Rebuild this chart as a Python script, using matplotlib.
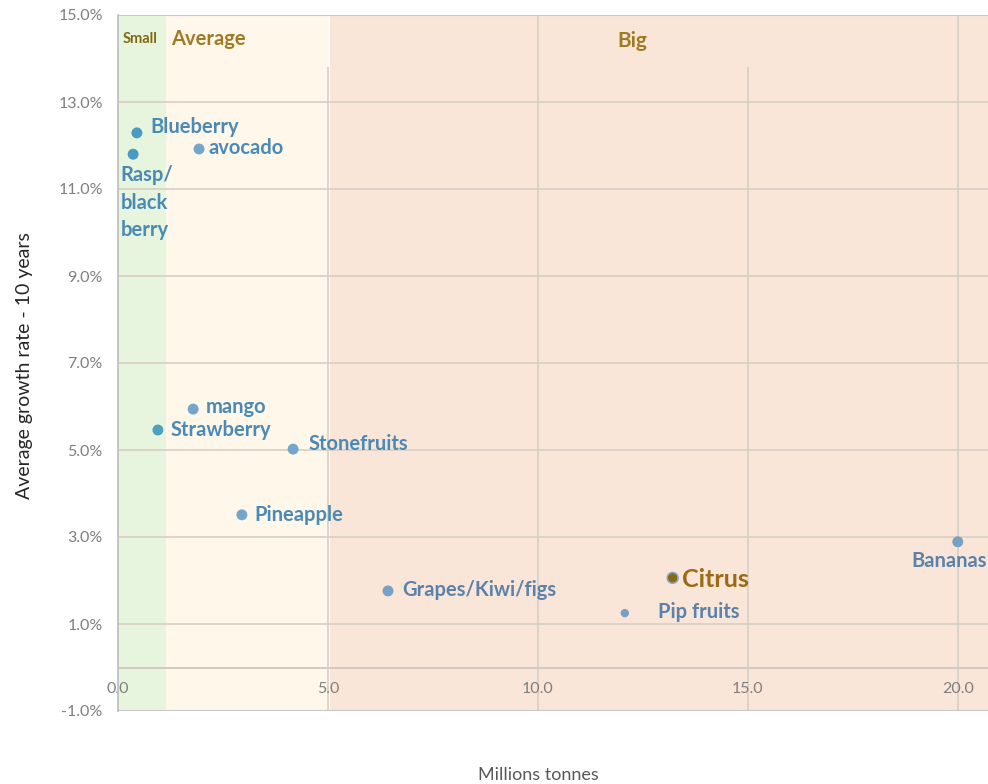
import matplotlib
matplotlib.use("Agg")
import matplotlib.pyplot as plt
from matplotlib.ticker import FuncFormatter

plt.rcParams['font.family'] = ['Lato', 'DejaVu Sans']

# Fruit categories: volume (million tonnes) vs 10-year average growth rate (%)
fruits = ["Blueberry", "Rasp/\nblack\nberry", "avocado", "mango", "Strawberry",
          "Stonefruits", "Pineapple", "Grapes/Kiwi/figs", "Citrus", "Pip fruits", "Bananas"]
volume = [0.45, 0.36, 1.93, 1.79, 0.95, 4.17, 2.95, 6.43, 13.21, 12.07, 20.0]
growth = [12.29, 11.80, 11.92, 5.94, 5.46, 5.02, 3.51, 1.76, 2.06, 1.25, 2.89]

# Size classes (million tonnes)
segments = ["Small", "Average", "Big"]
segment_bounds = [(0.0, 1.14), (1.14, 5.0), (5.05, 21.0)]
segment_colors = ["#E8F5DE", "#FFF7EA", "#FAE6D8"]

x_ticks = [0, 5, 10, 15, 20]
y_ticks = [-1, 1, 3, 5, 7, 9, 11, 13, 15]

# Marker / label styling per point
marker_colors = ["#4A9BC3", "#4A9BC3", "#74A6CC", "#74A6CC", "#4FA0BE",
                 "#74A6CC", "#74A6CC", "#789FC4", "#8B6914", "#789FC4", "#789FC4"]
marker_sizes = [62, 62, 62, 62, 62, 62, 62, 62, 50, 36, 62]
label_colors = ["#4A8AB5"] * 7 + ["#5A82AA", "#9A6B12", "#5A82AA", "#5A82AA"]
label_sizes = [14.5, 14.5, 14.5, 14.5, 14.5, 14.5, 14.5, 14.5, 18, 14.5, 14.5]
# (dx, dy) in points, horizontal and vertical alignment
label_offsets = [(10, 4.5, "left", "center"), (-9, -8, "left", "top"),
                 (7, 0.5, "left", "center"), (9, 1.5, "left", "center"),
                 (9, 0, "left", "center"), (11, 4, "left", "center"),
                 (9, 0, "left", "center"), (10, 0.5, "left", "center"),
                 (7, -1.5, "left", "center"), (24, 0.5, "left", "center"),
                 (-6, -14, "center", "center")]

fig = plt.figure(figsize=(9.88, 7.84), dpi=100)
ax = fig.add_axes([118 / 988, 1 - 711 / 784, 1 - 118 / 988, (711 - 15) / 784])
ax.set_xlim(0, 20.72)
ax.set_ylim(-1, 15)

# Background bands for size classes
for (x0, x1), c in zip(segment_bounds, segment_colors):
    ax.axvspan(x0, x1, ymin=0, ymax=1, color=c, zorder=0, lw=0)

# Gridlines
grid_c = "#D8CEC5"
for yv in y_ticks[1:-1]:
    ax.axhline(yv, color=grid_c, lw=1.2, zorder=1)
ax.axhline(0, color="#CFC6BE", lw=1.3, zorder=1)
ax.vlines([10, 20], -1, 15, color=grid_c, lw=1.2, zorder=1)
ax.vlines([5, 15], -1, 13.8, color=grid_c, lw=1.2, zorder=1)
ax.axhline(15, color="#C8C8C8", lw=1.5, zorder=2)
ax.axhline(-1, color="#C8C8C8", lw=1.5, zorder=2)

for s in ["top", "right", "bottom"]:
    ax.spines[s].set_visible(False)
ax.spines["left"].set_color("#C0C0C0")
ax.spines["left"].set_linewidth(1.3)

ax.set_yticks(y_ticks)
ax.yaxis.set_major_formatter(FuncFormatter(lambda v, p: f"{v:.1f}%"))
ax.set_xticks(x_ticks)
ax.xaxis.set_major_formatter(FuncFormatter(lambda v, p: f"{v:.1f}"))
ax.tick_params(axis="both", length=0, labelsize=11.5, labelcolor="#7F7F7F")
ax.tick_params(axis="x", pad=-21)
ax.tick_params(axis="y", pad=11)

# Points
ax.scatter(volume, growth, s=marker_sizes, c=marker_colors, zorder=4, lw=0)
# Citrus has a blue ring around its dot
ci = fruits.index("Citrus")
ax.scatter([volume[ci]], [growth[ci]], s=62, facecolors="none",
           edgecolors="#7AA6D0", lw=1.0, zorder=5)

for i, name in enumerate(fruits):
    dx, dy, ha, va = label_offsets[i]
    ax.annotate(name, (volume[i], growth[i]), xytext=(dx, dy),
                textcoords="offset points", ha=ha, va=va,
                fontsize=label_sizes[i], fontweight="bold",
                color=label_colors[i], zorder=6, linespacing=1.45,
                annotation_clip=False)

# Size class titles
ax.text(0.1, 14.45, "Small", fontsize=10.5, fontweight="bold", color="#7F6A12",
        va="center", ha="left", zorder=6)
ax.text(1.26, 14.45, "Average", fontsize=14.5, fontweight="bold", color="#A07A22",
        va="center", ha="left", zorder=6)
ax.text(12.25, 14.4, "Big", fontsize=15, fontweight="bold", color="#A07A22",
        va="center", ha="center", zorder=6)

fig.text(25 / 988, 1 - 366 / 784, "Average growth rate - 10 years", rotation=90,
         ha="center", va="center", fontsize=14, color="#262626")
fig.text(538 / 988, 1 - 775 / 784, "Millions tonnes", ha="center", va="center",
         fontsize=13, color="#595959")

fig.savefig("out.png", dpi=100)
